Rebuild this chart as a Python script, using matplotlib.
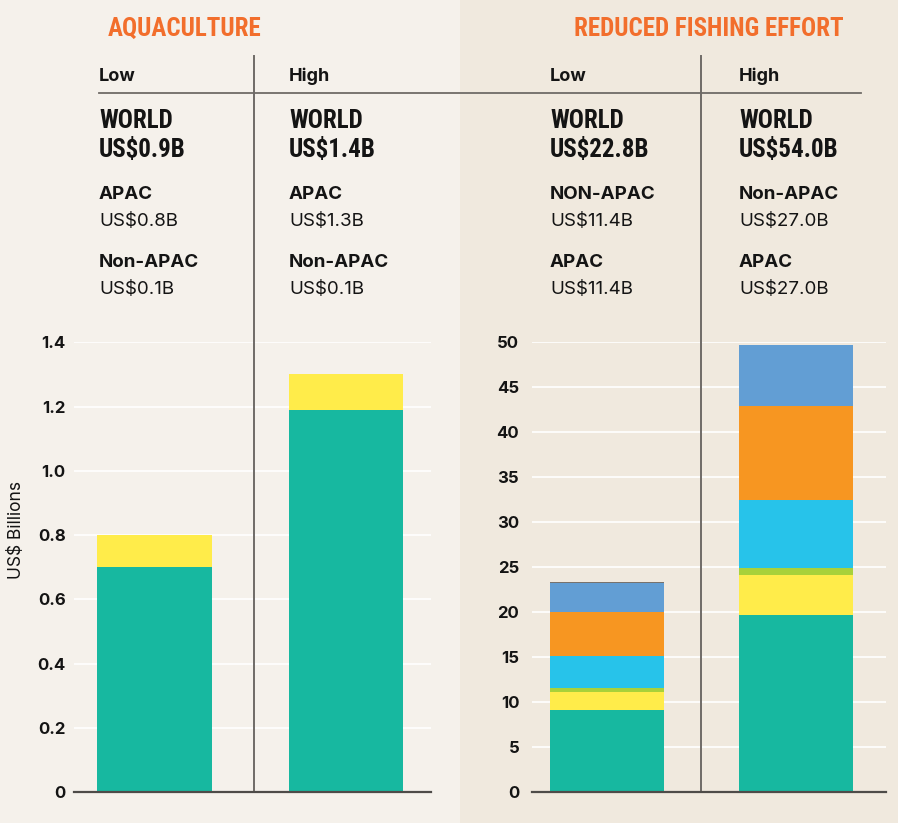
import matplotlib
matplotlib.use("Agg")
import matplotlib.pyplot as plt
from matplotlib import font_manager
from matplotlib.lines import Line2D
from matplotlib.patches import Rectangle

# ---- data ----
scenarios = ["Low", "High"]

aqua_apac = [0.70, 1.19]
aqua_non_apac = [0.10, 0.11]

# reduced fishing effort stack, bottom to top
fish_teal = [9.14, 19.70]
fish_yellow = [2.00, 4.44]
fish_green = [0.45, 0.82]
fish_cyan = [3.59, 7.52]
fish_orange = [4.85, 10.44]
fish_blue = [3.26, 6.78]
fish_gray = [0.12, 0.0]

aqua_world = ["US$0.9B", "US$1.4B"]
aqua_rows = [("APAC", ["US$0.8B", "US$1.3B"]), ("Non-APAC", ["US$0.1B", "US$0.1B"])]
fish_world = ["US$22.8B", "US$54.0B"]
fish_rows = [(["NON-APAC", "Non-APAC"], ["US$11.4B", "US$27.0B"]),
             (["APAC", "APAC"], ["US$11.4B", "US$27.0B"])]

aqua_ticks = [0, 0.2, 0.4, 0.6, 0.8, 1.0, 1.2, 1.4]
aqua_ticklabels = ["0", "0.2", "0.4", "0.6", "0.8", "1.0", "1.2", "1.4"]
fish_ticks = [0, 5, 10, 15, 20, 25, 30, 35, 40, 45, 50]

# ---- styles ----
TEAL = "#17B8A0"
YELLOW = "#FFEC4A"
GREEN = "#A8D13A"
CYAN = "#27C3EA"
ORANGE = "#F79621"
BLUE = "#629ED4"
GRAY = "#77726D"
TITLE = "#F26E2C"
INK = "#141414"
LINE = "#6F6B67"
BG_LEFT = "#F5F1EB"
BG_RIGHT = "#F0E9DE"

names = {f.name for f in font_manager.fontManager.ttflist}
BODY = "Inter" if "Inter" in names else "DejaVu Sans"
HEAVY = dict(family="DejaVu Sans", weight="bold", stretch="condensed")
HEAVY_SIZE = 15.5
for cand in ["Roboto Condensed", "Liberation Sans Narrow", "Open Sans Condensed",
             "Noto Sans Condensed"]:
    if cand in names:
        HEAVY = dict(family=cand, weight="black")
        HEAVY_SIZE = 18
        break

W, H = 898, 823
fig = plt.figure(figsize=(W / 100, H / 100), dpi=100)
fig.patch.set_facecolor(BG_LEFT)
fig.patches.append(Rectangle((460 / W, 0), 1 - 460 / W, 1, transform=fig.transFigure,
                             facecolor=BG_RIGHT, edgecolor="none", zorder=-5))


def px(x, y):
    return x / W, 1 - y / H


def ftext(x, y, s, color=INK, **kw):
    fig.text(*px(x, y), s, va="baseline", ha="left", color=color, **kw)


# ---- axes ----
y0, y1 = 792.3, 342.3
axL = fig.add_axes([74 / W, (H - y0) / H, (430.7 - 74) / W, (y0 - y1) / H])
axR = fig.add_axes([531.7 / W, (H - y0) / H, (886 - 531.7) / W, (y0 - y1) / H])

x = [0, 1]
axL.bar(x, aqua_apac, width=0.6, color=TEAL, zorder=3)
axL.bar(x, aqua_non_apac, width=0.6, bottom=aqua_apac, color=YELLOW, zorder=3)
axL.set_xlim(-0.423, 1.444)
axL.set_ylim(0, 1.4)
axL.set_yticks(aqua_ticks)
axL.set_yticklabels(aqua_ticklabels)

bottom = [0, 0]
for vals, col in [(fish_teal, TEAL), (fish_yellow, YELLOW), (fish_green, GREEN),
                  (fish_cyan, CYAN), (fish_orange, ORANGE), (fish_blue, BLUE),
                  (fish_gray, GRAY)]:
    axR.bar(x, vals, width=0.605, bottom=bottom, color=col, zorder=3)
    bottom = [b + v for b, v in zip(bottom, vals)]
axR.set_xlim(-0.399, 1.477)
axR.set_ylim(0, 50)
axR.set_yticks(fish_ticks)

for ax, pad, div in [(axL, 6, 0.518), (axR, 9, 0.496)]:
    ax.set_facecolor("none")
    ax.grid(axis="y", color="white", linewidth=1.2, zorder=1)
    ax.set_axisbelow(True)
    for s in ["top", "right", "left"]:
        ax.spines[s].set_visible(False)
    ax.spines["bottom"].set_color("#4E4B48")
    ax.spines["bottom"].set_linewidth(1.6)
    ax.spines["bottom"].set_zorder(5)
    ax.set_xticks([])
    ax.tick_params(axis="y", length=0, pad=pad, labelsize=12, labelcolor=INK)
    for lab in ax.get_yticklabels():
        lab.set_fontweight("bold")
        lab.set_family(BODY)
    ax.axvline(div, ymin=0, ymax=(792.3 - 56) / 450, color=LINE, linewidth=1.4,
               clip_on=False, zorder=4)

fig.text(*px(17, 530), "US$ Billions", rotation=90, ha="center", va="center",
         fontsize=12.5, family=BODY, color=INK)

# header rule
fig.add_artist(Line2D([99 / W, 861 / W], [1 - 93 / H, 1 - 93 / H],
                      color=LINE, linewidth=1.3))

# titles
ftext(108, 36, "AQUACULTURE", fontsize=HEAVY_SIZE, color=TITLE, **HEAVY)
ftext(574, 36, "REDUCED FISHING EFFORT", fontsize=HEAVY_SIZE, color=TITLE, **HEAVY)

# column texts
cols_aqua = [99, 289]
cols_fish = [550, 739]
for i in range(2):
    for cx, world, rows in [(cols_aqua[i], aqua_world, aqua_rows),
                            (cols_fish[i], fish_world, fish_rows)]:
        ftext(cx, 81, scenarios[i], fontsize=13, fontweight="bold", family=BODY)
        ftext(cx, 128, "WORLD", fontsize=HEAVY_SIZE, **HEAVY)
        ftext(cx, 157, world[i], fontsize=HEAVY_SIZE, **HEAVY)
        for (label, value), yb in zip(rows, [199, 267]):
            lab = label if isinstance(label, str) else label[i]
            ftext(cx, yb, lab, fontsize=13.5, fontweight="bold", family=BODY)
            ftext(cx, yb + 27, value[i], fontsize=13.5, family=BODY)

fig.savefig("out.png", dpi=100, facecolor=fig.get_facecolor())
